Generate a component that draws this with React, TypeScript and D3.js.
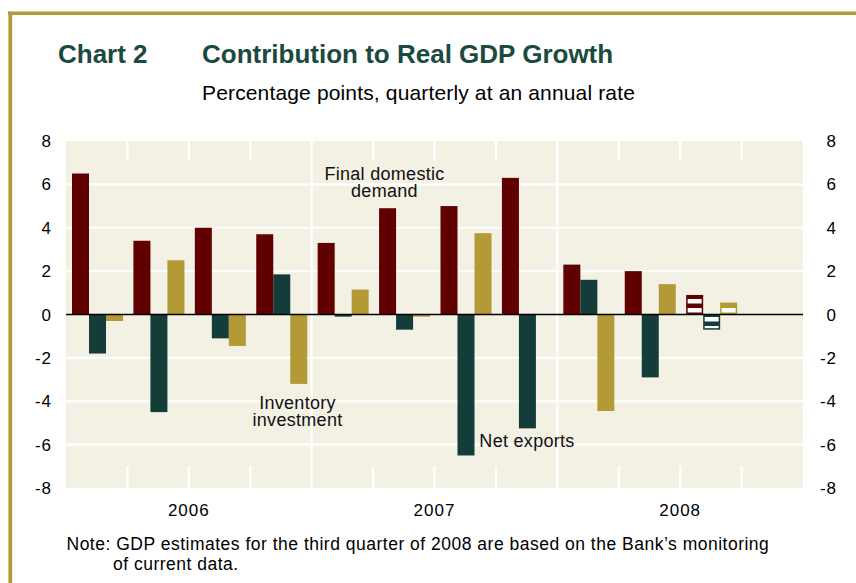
import React from 'react';
import * as d3 from 'd3';

const quarters = ['2006Q1', '2006Q2', '2006Q3', '2006Q4', '2007Q1', '2007Q2', '2007Q3', '2007Q4', '2008Q1', '2008Q2', '2008Q3', '2008Q4'];
const years = ['2006', '2007', '2008'];
const finalDemand = [6.5, 3.4, 4.0, 3.7, 3.3, 4.9, 5.0, 6.3, 2.3, 2.0, 0.9, null];
const netExports = [-1.8, -4.5, -1.1, 1.85, -0.1, -0.7, -6.5, -5.25, 1.6, -2.9, -0.7, null];
const inventory = [-0.3, 2.5, -1.45, -3.2, 1.15, -0.1, 3.75, 0, -4.45, 1.4, 0.55, null];
const estimatedQuarter = '2008Q3';
const yTicks = [-8, -6, -4, -2, 0, 2, 4, 6, 8];

const series = [
  { key: 'fdd', values: finalDemand, color: '#600000' },
  { key: 'nx', values: netExports, color: '#143d39' },
  { key: 'inv', values: inventory, color: '#b39a36' },
];

const W = 856;
const H = 583;
const plot = { left: 66, right: 803, top: 141, bottom: 488 };
const FONT = '"Liberation Sans", Arial, Helvetica, sans-serif';

const App = () => {
  const x = d3.scaleBand<string>().domain(quarters).range([plot.left, plot.right]);
  const inner = d3.scaleBand<string>().domain(series.map(s => s.key)).range([6, 57]);
  const y = d3.scaleLinear().domain([-8, 8]).range([plot.bottom, plot.top]);

  const bw = x.bandwidth();

  return (
    <svg width={W} height={H} style={{ position: 'absolute', left: 0, top: 0 }} fontFamily={FONT}>
      <defs>
        {series.map(s => (
          <pattern key={s.key} id={`hatch-${s.key}`} patternUnits="userSpaceOnUse" width={8} height={9}>
            <rect width={8} height={9} fill={s.color} />
            <rect y={2} width={8} height={4.5} fill="#fff" />
          </pattern>
        ))}
      </defs>
      <rect width={W} height={H} fill="#fff" />

      {/* frame */}
      <line x1={8} x2={W} y1={13.2} y2={13.2} stroke="#b59a3a" strokeWidth={3.6} />
      <line x1={10.3} x2={10.3} y1={11.4} y2={H} stroke="#b59a3a" strokeWidth={3.8} />

      {/* titles */}
      <text x={58} y={63} fontSize={26} fontWeight="bold" fill="#1a4a40">Chart 2</text>
      <text x={202} y={63} fontSize={26} fontWeight="bold" fill="#1a4a40">Contribution to Real GDP Growth</text>
      <text x={202} y={100} fontSize={21} letterSpacing={0.15} fill="#000">Percentage points, quarterly at an annual rate</text>

      {/* plot background */}
      <rect x={plot.left} y={plot.top} width={plot.right - plot.left} height={plot.bottom - plot.top} fill="#f3f0e4" />
      {yTicks.filter(t => t !== 8 && t !== -8 && t !== 0).map(t => (
        <line key={t} x1={plot.left} x2={plot.right} y1={y(t)} y2={y(t)} stroke="#fff" strokeWidth={2.2} />
      ))}
      {quarters.map((q, i) => {
        if (i === 0) return null;
        const xx = x(q)!;
        if (i % 4 === 0) {
          return <line key={q} x1={xx} x2={xx} y1={plot.top} y2={plot.bottom} stroke="#fff" strokeWidth={2.2} />;
        }
        return (
          <g key={q}>
            <line x1={xx} x2={xx} y1={plot.top} y2={plot.top + 20} stroke="#fff" strokeWidth={2.2} />
            <line x1={xx} x2={xx} y1={plot.bottom - 22} y2={plot.bottom} stroke="#fff" strokeWidth={2.2} />
          </g>
        );
      })}

      {/* bars */}
      {series.map(s => (
        <g key={s.key}>
          {quarters.map((q, i) => {
            const v = s.values[i];
            if (v === null || v === 0) return null;
            const bx = x(q)! + inner(s.key)!;
            const y0 = Math.min(y(v), y(0));
            const h = Math.abs(y(v) - y(0));
            if (q === estimatedQuarter) {
              return (
                <rect key={q} x={bx + 0.75} y={y0 + 0.75} width={inner.bandwidth() - 1.5} height={h - 1.5}
                  fill={`url(#hatch-${s.key})`} stroke={s.color} strokeWidth={1.5} />
              );
            }
            return <rect key={q} x={bx} y={y0} width={inner.bandwidth()} height={h} fill={s.color} />;
          })}
        </g>
      ))}

      {/* zero line */}
      <line x1={plot.left} x2={plot.right} y1={y(0)} y2={y(0)} stroke="#000" strokeWidth={1.6} />

      {/* y axis labels */}
      {yTicks.map(t => (
        <g key={t} fontSize={17} letterSpacing={1} fill="#000">
          <text x={52} y={y(t) + 6} textAnchor="end">{t}</text>
          <text x={837} y={y(t) + 6} textAnchor="end">{t}</text>
        </g>
      ))}

      {/* year labels */}
      {years.map((yr, i) => (
        <text key={yr} x={x(quarters[i * 4])! + bw * 2} y={516} fontSize={17} letterSpacing={1} textAnchor="middle">{yr}</text>
      ))}

      {/* annotations */}
      <g fontSize={18} letterSpacing={0.3} textAnchor="middle" fill="#111">
        <text x={384.5} y={179.5}>Final domestic</text>
        <text x={384.5} y={197}>demand</text>
        <text x={297.5} y={408.5}>Inventory</text>
        <text x={297.5} y={426}>investment</text>
        <text x={527} y={447}>Net exports</text>
      </g>

      {/* note */}
      <g fontSize={17.5} letterSpacing={0.5} fill="#000">
        <text x={66.5} y={550}>Note: GDP estimates for the third quarter of 2008 are based on the Bank’s monitoring</text>
        <text x={113} y={570}>of current data.</text>
      </g>
    </svg>
  );
};

export default App;
